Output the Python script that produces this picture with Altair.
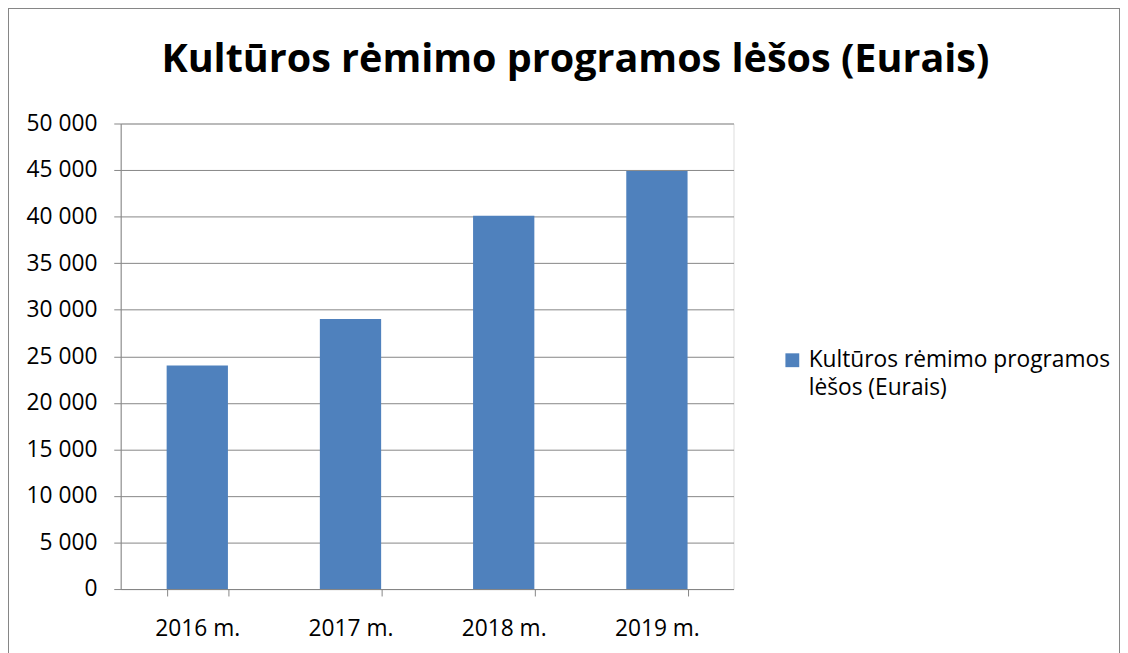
import altair as alt
import pandas as pd

years = ["2016 m.", "2017 m.", "2018 m.", "2019 m."]
values = [24000, 29000, 40100, 44900]
series_name = "Kultūros rėmimo programos lėšos (Eurais)"
legend_lines = ["Kultūros rėmimo programos", "lėšos (Eurais)"]
title_text = "Kultūros rėmimo programos lėšos (Eurais)"
y_ticks = [0, 5000, 10000, 15000, 20000, 25000, 30000, 35000, 40000, 45000, 50000]

df = pd.DataFrame({"year": years, "value": values, "series": [series_name] * len(years)})

FONT = "Open Sans"
GRID = "#868686"

legend_expr = "['" + legend_lines[0] + "', '" + legend_lines[1] + "']"

chart = alt.Chart(df).mark_bar(color="#4F81BD").encode(
    x=alt.X("year:N", sort=years, title=None,
            scale=alt.Scale(paddingInner=0.6, paddingOuter=0.3),
            axis=alt.Axis(labelAngle=0, tickBand="extent", tickSize=7, tickColor=GRID,
                          domainColor=GRID, labelPadding=22, labelFontSize=23,
                          labelFont=FONT, labelColor="#000000", grid=False)),
    y=alt.Y("value:Q", title=None,
            scale=alt.Scale(domain=[0, 50000], nice=False),
            axis=alt.Axis(values=y_ticks, tickSize=7, tickColor=GRID, domainColor=GRID,
                          gridColor=GRID, gridWidth=1, labelPadding=17, labelFontSize=23,
                          labelFont=FONT, labelColor="#000000",
                          labelExpr="replace(format(datum.value, ','), ',', ' ')")),
    color=alt.Color("series:N", scale=alt.Scale(range=["#4F81BD"]),
                    legend=alt.Legend(title=None, orient="none", legendX=668, legendY=228,
                                      symbolType="square", symbolSize=196, symbolStrokeWidth=0,
                                      labelFont=FONT, labelFontSize=23, labelColor="#000000",
                                      labelLimit=400, labelOffset=5, padding=0,
                                      labelExpr=legend_expr)),
).properties(
    width=620,
    height=471,
    title=alt.TitleParams(title_text, fontSize=40, font=FONT, fontWeight="bold",
                          color="#000000", anchor="middle", dx=150, offset=1,
                          baseline="alphabetic"),
    autosize=alt.AutoSizeParams(type="none"),
    padding={"left": 114, "top": 113, "right": 391, "bottom": 76},
).configure_view(stroke=None).configure(
    background="white", style={"guide-label": {"lineHeight": 28}}
)

chart.save("out.html", embed_options={"renderer": "svg", "actions": False})

with open("out.html", encoding="utf-8") as f:
    html = f.read()
css = "<style>body{overflow:hidden} #vis svg{outline:1px solid #868686; outline-offset:-1px}</style>"
html = html.replace("</head>", css + "</head>", 1)
with open("out.html", "w", encoding="utf-8") as f:
    f.write(html)
